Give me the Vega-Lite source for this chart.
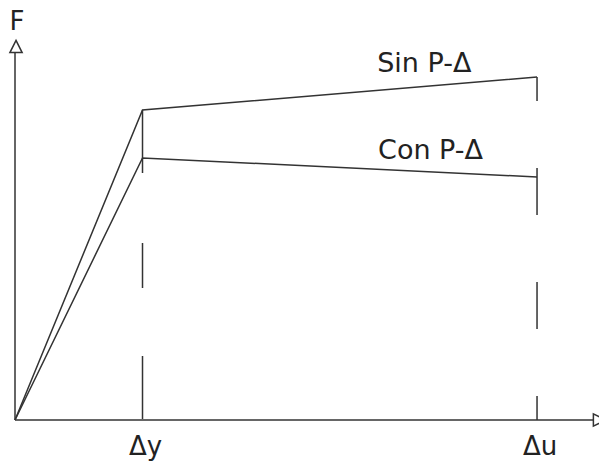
{
  "$schema": "https://vega.github.io/schema/vega-lite/v6.json",
  "width": 584,
  "height": 380,
  "autosize": "none",
  "padding": {"left": 15, "top": 40, "right": 0, "bottom": 43},
  "background": "white",
  "config": {"view": {"stroke": null}},
  "datasets": {
    "curves": [
      {"series": "Sin P-Δ", "x": 0, "y": 0},
      {"series": "Sin P-Δ", "x": 1, "y": 3.1},
      {"series": "Sin P-Δ", "x": 4.094, "y": 3.43},
      {"series": "Con P-Δ", "x": 0, "y": 0},
      {"series": "Con P-Δ", "x": 1, "y": 2.62},
      {"series": "Con P-Δ", "x": 4.094, "y": 2.43}
    ],
    "limits": [
      {"name": "Δy", "x": 1, "y": 3.1, "y2": 0},
      {"name": "Δu", "x": 4.094, "y": 3.43, "y2": 0}
    ],
    "axes": [
      {"axis": "x", "x": 0, "y": 0, "x2": 4.541, "y2": 0},
      {"axis": "y", "x": 0, "y": 0, "x2": 0, "y2": 3.67}
    ],
    "arrows": [
      {"dir": "up", "x": 0.008, "y": 3.735},
      {"dir": "right", "x": 4.584, "y": 0}
    ],
    "labels": [
      {"label": "Sin P-Δ", "x": 2.84, "y": 3.48, "kind": "series"},
      {"label": "Con P-Δ", "x": 2.847, "y": 2.61, "kind": "series"},
      {"label": "Δy", "x": 1.024, "y": -0.35, "kind": "tick"},
      {"label": "Δu", "x": 4.118, "y": -0.35, "kind": "tick"},
      {"label": "F", "x": 0.016, "y": 3.9, "kind": "tick"}
    ]
  },
  "layer": [
    {
      "data": {"name": "axes"},
      "mark": {"type": "rule", "color": "#333333", "strokeWidth": 1.5},
      "encoding": {
        "x": {"field": "x", "type": "quantitative", "scale": {"domain": [0, 4.58], "nice": false, "zero": false}, "axis": null},
        "y": {"field": "y", "type": "quantitative", "scale": {"domain": [0, 3.8], "nice": false, "zero": false}, "axis": null},
        "x2": {"field": "x2"},
        "y2": {"field": "y2"}
      }
    },
    {
      "data": {"name": "curves"},
      "mark": {"type": "line", "color": "#333333", "strokeWidth": 1.5},
      "encoding": {
        "x": {"field": "x", "type": "quantitative"},
        "y": {"field": "y", "type": "quantitative"},
        "detail": {"field": "series"},
        "order": {"field": "x"}
      }
    },
    {
      "data": {"name": "limits"},
      "transform": [{"filter": "datum.name === 'Δy'"}],
      "mark": {"type": "rule", "color": "#333333", "strokeWidth": 1.5, "strokeDash": [63, 70, 45, 68]},
      "encoding": {
        "x": {"field": "x", "type": "quantitative"},
        "y": {"field": "y", "type": "quantitative"},
        "y2": {"field": "y2"}
      }
    },
    {
      "data": {"name": "limits"},
      "transform": [{"filter": "datum.name === 'Δu'"}],
      "mark": {"type": "rule", "color": "#333333", "strokeWidth": 1.5, "strokeDash": [47, 67], "strokeDashOffset": 23},
      "encoding": {
        "x": {"field": "x", "type": "quantitative"},
        "y": {"field": "y", "type": "quantitative"},
        "y2": {"field": "y2"}
      }
    },
    {
      "data": {"name": "arrows"},
      "mark": {"type": "point", "filled": false, "fill": "white", "fillOpacity": 1, "stroke": "#333333", "strokeWidth": 1.5, "opacity": 1},
      "encoding": {
        "x": {"field": "x", "type": "quantitative"},
        "y": {"field": "y", "type": "quantitative"},
        "shape": {"field": "dir", "type": "nominal", "scale": {"domain": ["up", "right"], "range": ["M0,-1L1,1L-1,1Z", "M1,0L-1,-1L-1,1Z"]}, "legend": null},
        "size": {"value": 150}
      }
    },
    {
      "data": {"name": "labels"},
      "transform": [{"filter": "datum.kind === 'series'"}],
      "mark": {"type": "text", "font": "DejaVu Sans", "fontSize": 27, "align": "left", "baseline": "alphabetic", "color": "#222222"},
      "encoding": {
        "x": {"field": "x", "type": "quantitative"},
        "y": {"field": "y", "type": "quantitative"},
        "text": {"field": "label"}
      }
    },
    {
      "data": {"name": "labels"},
      "transform": [{"filter": "datum.kind === 'tick'"}],
      "mark": {"type": "text", "font": "DejaVu Sans", "fontSize": 26, "align": "center", "baseline": "alphabetic", "color": "#222222"},
      "encoding": {
        "x": {"field": "x", "type": "quantitative"},
        "y": {"field": "y", "type": "quantitative"},
        "text": {"field": "label"}
      }
    }
  ]
}
